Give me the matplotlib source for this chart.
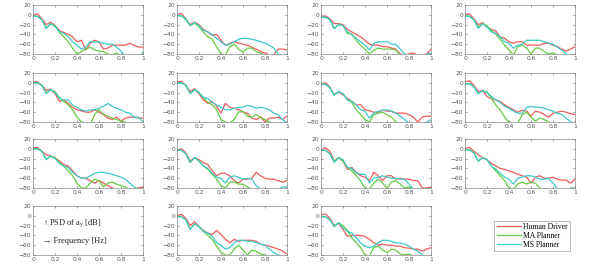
import numpy as np
import matplotlib
matplotlib.use("Agg")
import matplotlib.pyplot as plt

# frequency grid (normalised), shared by all panels
freq = np.round(np.arange(0, 1.0001, 0.04), 2)

# PSD of a_y [dB] per panel (values < -80 are off-axis)
human = [
    [-1, 2, -8, -20, -15, -22, -32, -36, -40, -45, -55, -52, -72, -58, -52, -55, -70, -68, -62, -62, -62, -62, -58, -62, -66, -66],
    [0, 3, -8, -20, -15, -20, -30, -35, -42, -40, -52, -62, -58, -55, -58, -60, -62, -66, -70, -75, -78, -82, -82, -70, -70, -72],
    [-5, -2, -8, -18, -18, -20, -30, -35, -40, -45, -52, -60, -62, -62, -65, -65, -68, -70, -80, -82, -80, -78, -82, -82, -80, -70],
    [0, 2, -8, -20, -16, -25, -30, -33, -45, -48, -55, -58, -55, -55, -62, -62, -62, -62, -58, -58, -62, -65, -70, -74, -70, -65],
    [2, 2, -5, -15, -13, -22, -38, -35, -42, -50, -55, -57, -60, -60, -55, -60, -65, -72, -75, -70, -78, -72, -70, -70, -72, -72],
    [2, 3, -5, -18, -12, -22, -35, -42, -38, -48, -62, -42, -50, -52, -55, -60, -62, -72, -75, -70, -80, -72, -72, -70, -75, -68],
    [-2, 0, -8, -25, -18, -25, -32, -38, -45, -45, -55, -57, -60, -60, -56, -58, -58, -62, -62, -62, -65, -70, -80, -70, -68, -68],
    [2, 4, -5, -18, -15, -28, -33, -35, -38, -45, -50, -55, -60, -56, -58, -68, -58, -60, -65, -70, -62, -60, -58, -60, -63, -65],
    [2, 3, -5, -12, -15, -18, -25, -32, -35, -45, -55, -60, -60, -65, -70, -65, -70, -75, -80, -82, -82, -82, -82, -82, -80, -78],
    [-3, 0, -8, -25, -18, -22, -28, -32, -45, -55, -50, -50, -55, -65, -70, -62, -62, -60, -48, -55, -60, -62, -62, -65, -68, -65],
    [-2, 2, -5, -25, -18, -25, -42, -38, -48, -55, -58, -65, -48, -55, -65, -55, -55, -62, -60, -62, -62, -65, -65, -80, -80, -78],
    [0, 3, -5, -12, -18, -22, -30, -35, -40, -42, -45, -48, -52, -55, -58, -70, -58, -55, -60, -60, -58, -62, -64, -64, -70, -62],
    [0, 3, -5, -20, -12, -22, -30, -35, -38, -30, -38, -48, -55, -48, -52, -50, -50, -50, -52, -58, -60, -62, -65, -68, -72, -78],
    [2, 4, -5, -20, -15, -28, -42, -40, -40, -40, -42, -48, -55, -60, -58, -60, -60, -62, -62, -65, -66, -68, -68, -72, -68, -65],
]
ma_planner = [
    [-3, -3, -10, -27, -18, -22, -36, -45, -55, -68, -80, -75, -70, -66, -72, -74, -75, -80, -82, -78, -85, -90, -90, -90, -90, -90],
    [-2, -2, -10, -22, -17, -25, -35, -45, -50, -65, -80, -82, -65, -60, -70, -76, -68, -68, -75, -78, -82, -90, -90, -90, -90, -90],
    [-5, -5, -10, -28, -20, -22, -38, -40, -52, -62, -70, -80, -72, -68, -70, -70, -70, -72, -82, -90, -90, -90, -90, -90, -90, -90],
    [-3, -3, -10, -25, -18, -22, -32, -40, -50, -62, -72, -82, -65, -62, -68, -80, -68, -68, -75, -80, -78, -82, -90, -90, -90, -90],
    [0, 0, -5, -20, -14, -18, -30, -38, -45, -55, -70, -80, -82, -85, -65, -55, -65, -68, -72, -75, -78, -80, -85, -90, -90, -90],
    [0, 0, -5, -22, -14, -20, -30, -40, -45, -55, -75, -80, -82, -75, -60, -58, -68, -70, -65, -70, -75, -80, -82, -90, -90, -90],
    [-3, -3, -10, -25, -18, -22, -35, -40, -55, -65, -75, -80, -65, -62, -60, -65, -70, -80, -82, -90, -90, -90, -90, -90, -90, -90],
    [-2, -2, -8, -22, -16, -18, -32, -45, -55, -70, -80, -82, -82, -65, -60, -70, -78, -72, -75, -80, -85, -90, -90, -90, -90, -90],
    [0, 0, -5, -22, -15, -18, -28, -35, -45, -55, -70, -80, -80, -70, -62, -65, -78, -70, -68, -72, -75, -78, -85, -90, -90, -90],
    [-3, -3, -10, -28, -18, -25, -35, -42, -52, -62, -75, -80, -68, -68, -72, -72, -78, -82, -90, -90, -90, -90, -90, -90, -90, -90],
    [-3, -3, -10, -25, -18, -25, -38, -45, -55, -65, -80, -82, -70, -62, -70, -80, -68, -65, -72, -80, -78, -82, -90, -90, -90, -90],
    [-2, -2, -8, -25, -18, -22, -35, -45, -55, -65, -80, -82, -72, -68, -72, -68, -70, -80, -82, -90, -90, -90, -90, -90, -90, -90],
    [-2, -2, -8, -28, -16, -22, -32, -40, -48, -62, -75, -80, -80, -68, -60, -70, -80, -70, -72, -78, -80, -85, -90, -90, -90, -90],
    [-2, -2, -8, -22, -14, -20, -30, -45, -55, -65, -80, -82, -65, -62, -70, -75, -68, -70, -78, -80, -78, -82, -90, -90, -90, -90],
]
ms_planner = [
    [-3, -3, -10, -28, -18, -24, -34, -38, -45, -55, -62, -70, -66, -55, -56, -55, -58, -60, -60, -66, -74, -85, -90, -90, -90, -76],
    [-2, -2, -8, -22, -16, -22, -32, -35, -40, -48, -55, -62, -60, -55, -50, -48, -48, -50, -52, -55, -58, -62, -68, -80, -90, -90],
    [-5, -5, -10, -28, -20, -22, -35, -40, -48, -55, -62, -72, -58, -55, -55, -55, -60, -60, -70, -80, -82, -90, -90, -90, -80, -78],
    [-3, -3, -10, -28, -18, -25, -35, -38, -45, -55, -58, -68, -62, -60, -52, -52, -52, -52, -55, -58, -60, -66, -72, -80, -85, -90],
    [0, 0, -5, -22, -14, -20, -32, -35, -35, -45, -50, -55, -58, -55, -55, -52, -48, -42, -48, -52, -55, -60, -62, -70, -70, -80],
    [0, 0, -5, -22, -14, -20, -30, -32, -40, -45, -50, -55, -55, -52, -50, -50, -46, -48, -52, -50, -52, -55, -62, -65, -75, -82],
    [-3, -3, -10, -25, -18, -22, -35, -38, -45, -55, -58, -72, -62, -58, -56, -55, -58, -62, -68, -75, -82, -90, -90, -90, -80, -75],
    [-2, -2, -8, -22, -16, -20, -28, -35, -40, -48, -52, -58, -62, -62, -50, -48, -50, -50, -52, -55, -58, -62, -65, -72, -80, -82],
    [0, 0, -5, -22, -15, -20, -30, -35, -38, -48, -55, -60, -60, -55, -50, -48, -48, -50, -52, -55, -58, -62, -70, -78, -82, -90],
    [-3, -3, -10, -28, -18, -25, -35, -40, -50, -58, -60, -70, -58, -55, -58, -62, -60, -62, -75, -82, -82, -82, -82, -82, -78, -78],
    [-3, -3, -10, -28, -18, -22, -38, -40, -50, -52, -52, -70, -60, -58, -55, -58, -60, -60, -62, -62, -72, -82, -90, -90, -90, -90],
    [-2, -2, -8, -25, -18, -22, -35, -42, -50, -58, -62, -72, -60, -58, -55, -55, -58, -62, -62, -60, -70, -82, -90, -90, -80, -80],
    [-2, -2, -8, -28, -16, -22, -32, -35, -42, -55, -60, -68, -65, -55, -50, -50, -52, -52, -55, -58, -60, -68, -75, -80, -82, -90],
    [-2, -2, -8, -22, -14, -25, -32, -35, -45, -55, -62, -65, -62, -55, -50, -50, -52, -55, -56, -58, -62, -68, -72, -80, -82, -90],
]
series_names = ["Human Driver", "MA Planner", "MS Planner"]
series_colors = ["#f25c5c", "#66cc44", "#3fc8c8"]

# grid cells (row, col) holding a data panel, in reading order
panel_cells = [(0, 0), (0, 1), (0, 2), (0, 3),
               (1, 0), (1, 1), (1, 2), (1, 3),
               (2, 0), (2, 1), (2, 2), (2, 3),
               (3, 1), (3, 2)]

W, H = 598, 267
lefts = [33, 177, 321, 465]
tops = [5, 73, 139, 206]
aw, ah = 110, 49

fig = plt.figure(figsize=(W / 100, H / 100), dpi=100)


def make_axes(r, c):
    ax = fig.add_axes([lefts[c] / W, 1 - (tops[r] + ah) / H, aw / W, ah / H])
    ax.set_xlim(0, 1)
    ax.set_ylim(-80, 20)
    ax.set_xticks([0, 0.2, 0.4, 0.6, 0.8, 1])
    ax.set_xticklabels(["0", "0.2", "0.4", "0.6", "0.8", "1"])
    ax.set_yticks([-80, -60, -40, -20, 0, 20])
    ax.tick_params(direction="in", length=1.5, width=0.4, labelsize=4.3,
                   colors="#555555", pad=1.5, top=True, right=True)
    for s in ax.spines.values():
        s.set_linewidth(0.5)
        s.set_color("#888888")
    return ax


for k, (r, c) in enumerate(panel_cells):
    ax = make_axes(r, c)
    for vals, col in zip([human[k], ma_planner[k], ms_planner[k]], series_colors):
        ax.plot(freq, vals, color=col, lw=0.9)

# axis description panel
ax = make_axes(3, 0)
serif = ["Liberation Serif", "DejaVu Serif"]
ax.text(0.09, 0.63, "\u2191 PSD of a$_\\mathregular{y}$ [dB]", transform=ax.transAxes,
        fontsize=6, family=serif, va="center", color="#222222")
ax.text(0.09, 0.29, "\u2192 Frequency [Hz]", transform=ax.transAxes,
        fontsize=6, family=serif, va="center", color="#222222")

# legend in the last cell
handles = [plt.Line2D([], [], color=c, lw=0.9) for c in series_colors]
fig.legend(handles, series_names, loc="center", bbox_to_anchor=(532 / W, 1 - 236 / H),
           prop={"family": serif, "size": 5.5}, frameon=True, fancybox=False,
           edgecolor="#888888", handlelength=3.2, handletextpad=0.2,
           labelspacing=0.15, borderpad=0.3).get_frame().set_linewidth(0.5)

fig.savefig("out.png", dpi=100)
